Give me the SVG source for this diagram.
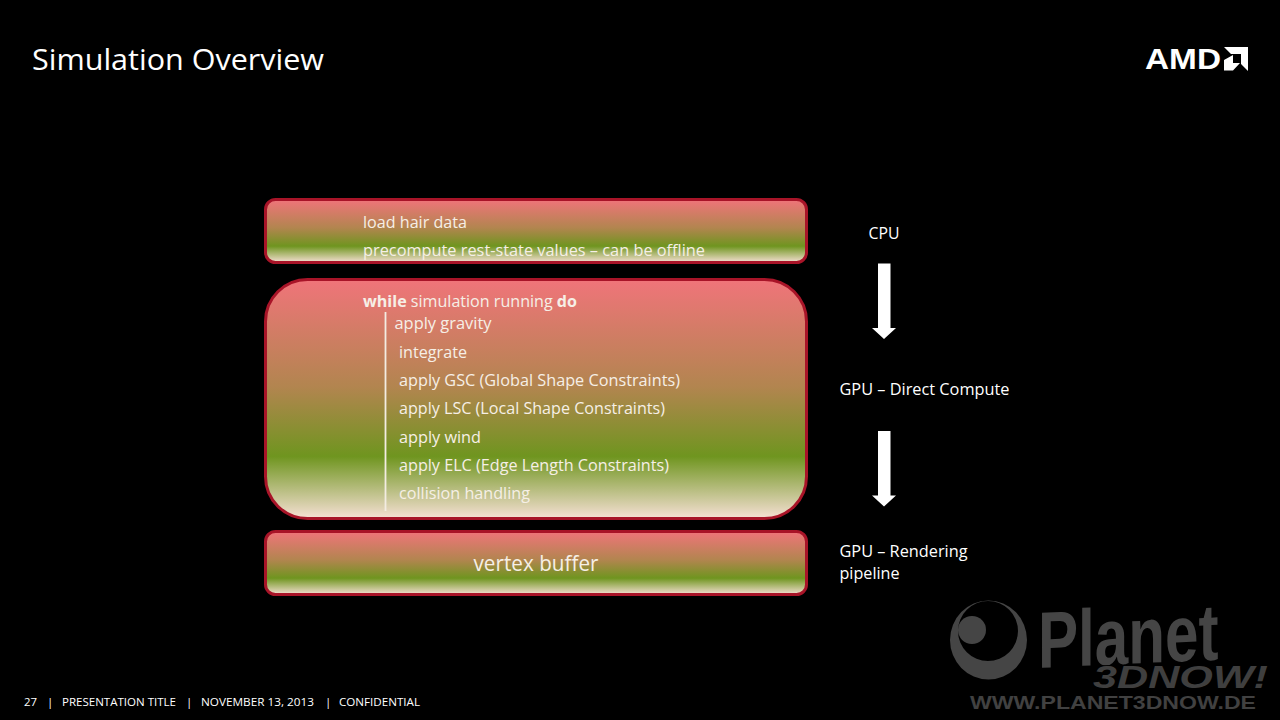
<svg xmlns="http://www.w3.org/2000/svg" width="1280" height="720" viewBox="0 0 1280 720">
<style>
text{font-family:"Open Sans","Noto Sans","Liberation Sans",sans-serif;fill:#fff}
.b{font-size:16.5px;fill:#f6efe6}
.s{font-size:16.5px}
.f{font-size:11.5px}
.box{fill:url(#g);stroke:#a81428;stroke-width:3}
.wm{fill:#454545;font-family:"Liberation Sans",sans-serif;font-weight:bold}
.arrow{fill:#fff}
</style>
<defs>
<linearGradient id="g" x1="0" y1="0" x2="0" y2="1">
<stop offset="0" stop-color="#f0747a"/>
<stop offset="0.45" stop-color="#b2854f"/>
<stop offset="0.74" stop-color="#6f951f"/>
<stop offset="1" stop-color="#f6e0d4"/>
</linearGradient>
</defs>
<rect width="1280" height="720" fill="#000"/>
<text id="title" x="32" y="70" font-size="29" textLength="292" lengthAdjust="spacingAndGlyphs">Simulation Overview</text>
<g id="amd-logo">
<text x="1145" y="68.500" font-size="29" font-weight="bold" textLength="76" lengthAdjust="spacingAndGlyphs" style="font-family:'Liberation Sans',sans-serif">AMD</text>
<path fill="#fff" d="M1224 47H1248V71L1241 64V54H1231ZM1224 60L1233 55V63H1240L1233 70.500H1224Z"/>
</g>
<g id="node-load">
<rect class="box" x="265.500" y="199.500" width="541" height="63" rx="10"/>
<text class="b" x="363" y="227.500" textLength="104" lengthAdjust="spacingAndGlyphs">load hair data</text>
<text class="b" x="363" y="256" textLength="342" lengthAdjust="spacingAndGlyphs">precompute rest-state values – can be offline</text>
</g>
<g id="node-loop">
<rect class="box" x="265.500" y="279.500" width="541" height="239" rx="42"/>
<text class="b" x="363" y="306.500" textLength="214" lengthAdjust="spacingAndGlyphs"><tspan font-weight="bold">while</tspan> simulation running <tspan font-weight="bold">do</tspan></text>
<text class="b" x="394.500" y="329" textLength="97" lengthAdjust="spacingAndGlyphs">apply gravity</text>
<text class="b" x="399" y="357.500" textLength="68" lengthAdjust="spacingAndGlyphs">integrate</text>
<text class="b" x="399" y="385.500" textLength="281" lengthAdjust="spacingAndGlyphs">apply GSC (Global Shape Constraints)</text>
<text class="b" x="399" y="414" textLength="266" lengthAdjust="spacingAndGlyphs">apply LSC (Local Shape Constraints)</text>
<text class="b" x="399" y="442.500" textLength="82" lengthAdjust="spacingAndGlyphs">apply wind</text>
<text class="b" x="399" y="470.500" textLength="270" lengthAdjust="spacingAndGlyphs">apply ELC (Edge Length Constraints)</text>
<text class="b" x="399" y="499" textLength="131" lengthAdjust="spacingAndGlyphs">collision handling</text>
</g>
<g id="node-vertex">
<rect class="box" x="265.500" y="531.500" width="541" height="63" rx="10"/>
<text class="b" x="473.500" y="570.500" style="font-size:21px" textLength="125" lengthAdjust="spacingAndGlyphs">vertex buffer</text>
</g>
<g id="connectors">
<line x1="385.500" y1="312" x2="385.500" y2="511" stroke="#f3ece2" stroke-width="1.800"/>
<path class="arrow" d="M878 263.500H890.500V328H896L884 339L872 328H878Z"/>
<path class="arrow" d="M878 431H890.500V495.500H896L884 506.500L872 495.500H878Z"/>
</g>
<g id="label-cpu"><text class="s" x="868.500" y="238.500" textLength="31" lengthAdjust="spacingAndGlyphs">CPU</text></g>
<g id="label-gpu-dc"><text class="s" x="839.500" y="395" textLength="170" lengthAdjust="spacingAndGlyphs">GPU – Direct Compute</text></g>
<g id="label-gpu-rp">
<text class="s" x="839.500" y="557" textLength="128" lengthAdjust="spacingAndGlyphs">GPU – Rendering</text>
<text class="s" x="839.500" y="579" textLength="60" lengthAdjust="spacingAndGlyphs">pipeline</text>
</g>
<g id="watermark">
<path fill="#454545" fill-rule="evenodd" d="M950 640A38.500 39.500 0 1 1 1027 640A38.500 39.500 0 1 1 950 640ZM958 631A30 30 0 1 0 1018 631A30 30 0 1 0 958 631Z"/>
<circle cx="972" cy="630" r="14" fill="#454545"/>
<text class="wm" transform="matrix(0.64 -0.03 0 1 1038 668)" font-size="80" textLength="282" lengthAdjust="spacingAndGlyphs" style="fill:#454545;font-family:'Liberation Sans',sans-serif">Planet</text>
<text class="wm" x="1093" y="688" font-size="31" font-style="italic" textLength="175" lengthAdjust="spacingAndGlyphs" stroke="#000" stroke-width="1.500" paint-order="stroke" style="fill:#3f3f3f;font-family:'Liberation Sans',sans-serif">3DNOW!</text>
<text class="wm" x="970" y="709" font-size="17.500" textLength="286" lengthAdjust="spacingAndGlyphs" style="fill:#414141;font-family:'Liberation Sans',sans-serif">WWW.PLANET3DNOW.DE</text>
</g>
<g id="footer">
<text class="f" x="24" y="705.500" textLength="13" lengthAdjust="spacingAndGlyphs">27</text>
<text class="f" x="47" y="705.500">|</text>
<text class="f" x="62" y="705.500" textLength="114" lengthAdjust="spacingAndGlyphs">PRESENTATION TITLE</text>
<text class="f" x="186" y="705.500">|</text>
<text class="f" x="201" y="705.500" textLength="113" lengthAdjust="spacingAndGlyphs">NOVEMBER 13, 2013</text>
<text class="f" x="325" y="705.500">|</text>
<text class="f" x="339" y="705.500" textLength="81" lengthAdjust="spacingAndGlyphs">CONFIDENTIAL</text>
</g>
</svg>
